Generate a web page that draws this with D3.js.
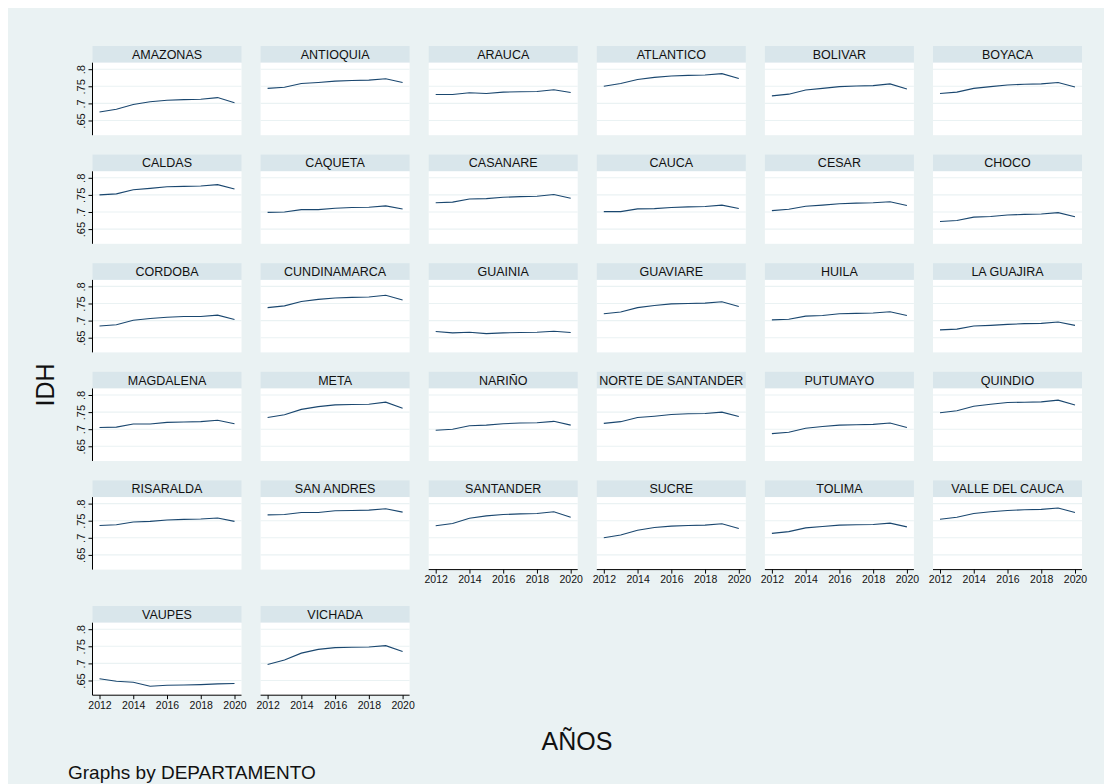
<!DOCTYPE html>
<html>
<head>
<meta charset="utf-8">
<script src="https://cdn.jsdelivr.net/npm/d3@7"></script>
<style>
  body { margin: 0; background: #fff; }
  svg { display: block; font-family: "Liberation Sans", Arial, sans-serif; }
</style>
</head>
<body>
<svg id="chart" width="1111" height="784"></svg>
<script>
// datos
const years = [2012, 2013, 2014, 2015, 2016, 2017, 2018, 2019, 2020];
const yTicks = [0.65, 0.7, 0.75, 0.8];
const xTicks = [2012, 2014, 2016, 2018, 2020];
const departamentos = [
  "AMAZONAS", "ANTIOQUIA", "ARAUCA", "ATLANTICO", "BOLIVAR", "BOYACA",
  "CALDAS", "CAQUETA", "CASANARE", "CAUCA", "CESAR", "CHOCO",
  "CORDOBA", "CUNDINAMARCA", "GUAINIA", "GUAVIARE", "HUILA", "LA GUAJIRA",
  "MAGDALENA", "META", "NARIÑO", "NORTE DE SANTANDER", "PUTUMAYO", "QUINDIO",
  "RISARALDA", "SAN ANDRES", "SANTANDER", "SUCRE", "TOLIMA", "VALLE DEL CAUCA",
  "VAUPES", "VICHADA"
];
// IDH por departamento (2012..2020)
const idh = [
  [0.675, 0.683, 0.697, 0.705, 0.709, 0.711, 0.712, 0.717, 0.702],
  [0.744, 0.747, 0.758, 0.761, 0.765, 0.767, 0.768, 0.772, 0.761],
  [0.726, 0.726, 0.731, 0.729, 0.733, 0.734, 0.735, 0.740, 0.732],
  [0.750, 0.758, 0.770, 0.776, 0.780, 0.782, 0.783, 0.787, 0.773],
  [0.722, 0.727, 0.739, 0.744, 0.749, 0.751, 0.752, 0.757, 0.742],
  [0.729, 0.733, 0.744, 0.749, 0.754, 0.756, 0.757, 0.761, 0.748],
  [0.750, 0.753, 0.765, 0.769, 0.774, 0.775, 0.776, 0.780, 0.767],
  [0.699, 0.700, 0.707, 0.707, 0.711, 0.713, 0.714, 0.718, 0.709],
  [0.727, 0.729, 0.738, 0.739, 0.743, 0.745, 0.746, 0.751, 0.740],
  [0.701, 0.701, 0.709, 0.710, 0.713, 0.715, 0.716, 0.720, 0.710],
  [0.704, 0.708, 0.717, 0.720, 0.724, 0.726, 0.727, 0.730, 0.719],
  [0.672, 0.675, 0.685, 0.687, 0.691, 0.693, 0.694, 0.698, 0.686],
  [0.684, 0.688, 0.701, 0.706, 0.710, 0.712, 0.712, 0.716, 0.703],
  [0.738, 0.743, 0.756, 0.762, 0.766, 0.768, 0.769, 0.774, 0.760],
  [0.668, 0.664, 0.666, 0.662, 0.664, 0.665, 0.666, 0.669, 0.665],
  [0.720, 0.725, 0.738, 0.744, 0.749, 0.750, 0.751, 0.755, 0.741],
  [0.702, 0.704, 0.713, 0.715, 0.720, 0.721, 0.722, 0.726, 0.715],
  [0.673, 0.675, 0.684, 0.686, 0.689, 0.691, 0.692, 0.696, 0.686],
  [0.705, 0.706, 0.715, 0.715, 0.720, 0.721, 0.722, 0.726, 0.716],
  [0.734, 0.742, 0.758, 0.766, 0.771, 0.772, 0.773, 0.779, 0.761],
  [0.697, 0.700, 0.710, 0.712, 0.716, 0.718, 0.719, 0.723, 0.712],
  [0.717, 0.722, 0.734, 0.738, 0.743, 0.745, 0.746, 0.750, 0.737],
  [0.687, 0.691, 0.703, 0.708, 0.712, 0.713, 0.714, 0.718, 0.705],
  [0.748, 0.754, 0.767, 0.773, 0.778, 0.779, 0.780, 0.785, 0.771],
  [0.736, 0.738, 0.746, 0.748, 0.752, 0.754, 0.755, 0.758, 0.748],
  [0.767, 0.768, 0.774, 0.774, 0.779, 0.780, 0.781, 0.785, 0.775],
  [0.735, 0.742, 0.757, 0.764, 0.768, 0.770, 0.771, 0.776, 0.760],
  [0.700, 0.708, 0.722, 0.730, 0.734, 0.736, 0.737, 0.741, 0.727],
  [0.713, 0.718, 0.729, 0.733, 0.737, 0.738, 0.739, 0.743, 0.732],
  [0.754, 0.760, 0.771, 0.776, 0.780, 0.782, 0.783, 0.787, 0.774],
  [0.655, 0.648, 0.645, 0.633, 0.636, 0.637, 0.638, 0.640, 0.641],
  [0.697, 0.710, 0.730, 0.741, 0.746, 0.747, 0.748, 0.752, 0.735]
];

const svg = d3.select("#chart");

// fondo del gráfico (estilo Stata s2color)
svg.append("rect").attr("x", 8).attr("y", 8).attr("width", 1096).attr("height", 800)
  .attr("fill", "#eaf2f3");

const nCols = 6;
const colLeft = c => 92.5 + c * 168.1;
const rowTop = r => r < 5 ? 46 + r * 108.6 : 606;
const panelW = 149, stripH = 16.7, plotH = 72.5;

departamentos.forEach((dep, i) => {
  const c = i % nCols, r = Math.floor(i / nCols);
  const x0 = colLeft(c), y0 = rowTop(r);
  const g = svg.append("g").attr("transform", `translate(${x0},${y0})`);

  // franja del título
  g.append("rect").attr("width", panelW).attr("height", stripH).attr("fill", "#d9e6eb");
  g.append("text")
    .attr("x", panelW / 2).attr("y", stripH / 2 + 4.4)
    .attr("text-anchor", "middle")
    .attr("font-size", 12.5).attr("fill", "#111")
    .text(dep);

  const pt = stripH;
  const x = d3.scaleLinear().domain([2012, 2020]).range([7, 142]);
  const y = d3.scaleLinear().domain([0.607, 0.819]).range([pt + plotH, pt]);

  g.append("rect").attr("y", pt).attr("width", panelW).attr("height", plotH).attr("fill", "#fff");

  // líneas de cuadrícula
  g.selectAll(".grid").data(yTicks).enter().append("line")
    .attr("x1", 0).attr("x2", panelW)
    .attr("y1", d => y(d)).attr("y2", d => y(d))
    .attr("stroke", "#eaf2f3").attr("stroke-width", 1.1);

  const serie = years.map((yr, k) => ({ yr, v: idh[i][k] }));
  g.append("path").datum(serie)
    .attr("fill", "none").attr("stroke", "#1a476f").attr("stroke-width", 1.1)
    .attr("d", d3.line().x(d => x(d.yr)).y(d => y(d.v)));

  // eje Y solo en la primera columna
  if (c === 0) {
    const ay = g.append("g").call(d3.axisLeft(y).tickValues(yTicks)
      .tickFormat(d => d3.format(".2")(d).replace(/^0/, "")).tickSize(4).tickSizeOuter(0));
    ay.select(".domain").attr("d", `M0,${pt}V${pt + plotH}`).attr("stroke", "#000");
    ay.selectAll(".tick line").attr("stroke", "#000");
    ay.selectAll(".tick text")
      .attr("transform", "rotate(-90)")
      .attr("x", 0).attr("y", -8).attr("dy", 0)
      .attr("text-anchor", "middle")
      .attr("font-size", 11).attr("fill", "#111")
      .attr("font-family", "'Liberation Sans', Arial, sans-serif");
  }

  // eje X en el último panel de cada columna
  const last = i + nCols >= departamentos.length;
  if (last) {
    const ax = g.append("g").attr("transform", `translate(0,${pt + plotH})`)
      .call(d3.axisBottom(x).tickValues(xTicks).tickFormat(d3.format("d")).tickSize(4).tickSizeOuter(0));
    ax.select(".domain").attr("d", `M0,0H${panelW}`).attr("stroke", "#000");
    ax.selectAll(".tick line").attr("stroke", "#000");
    ax.selectAll(".tick text")
      .attr("font-size", 10.5).attr("fill", "#111").attr("y", 6)
      .attr("font-family", "'Liberation Sans', Arial, sans-serif");
  }
});

// títulos
svg.append("text")
  .attr("transform", "translate(54,385) rotate(-90)")
  .attr("text-anchor", "middle").attr("font-size", 25).attr("fill", "#111")
  .text("IDH");
svg.append("text")
  .attr("x", 577).attr("y", 750)
  .attr("text-anchor", "middle").attr("font-size", 25).attr("fill", "#111")
  .text("AÑOS");
svg.append("text")
  .attr("x", 68).attr("y", 779)
  .attr("font-size", 19).attr("fill", "#111")
  .text("Graphs by DEPARTAMENTO");
</script>
</body>
</html>
